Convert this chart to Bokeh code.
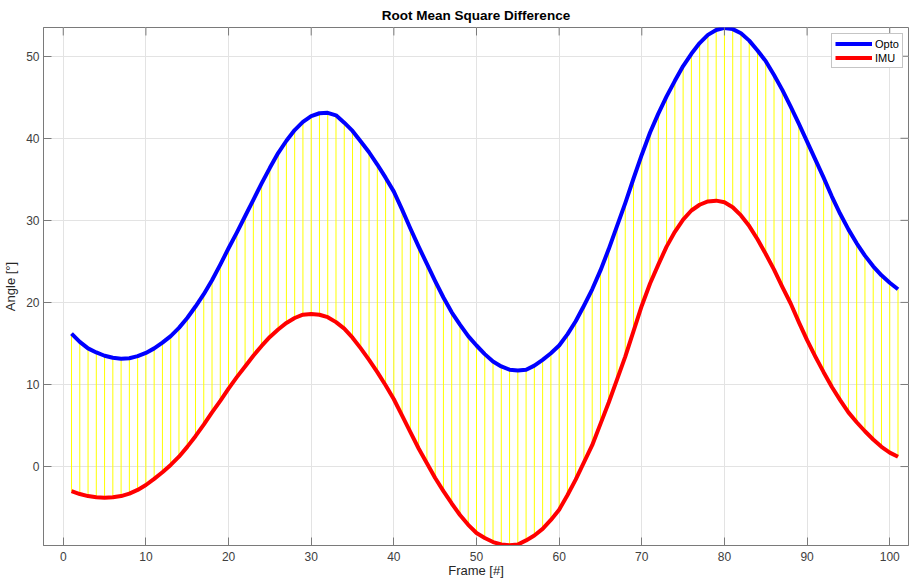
from bokeh.plotting import figure
from bokeh.models import Range1d, FixedTicker, Legend, LegendItem
from bokeh.embed import file_html
from bokeh.resources import INLINE

frames = list(range(1, 102))

opto = [16.2, 15.2, 14.4, 13.9, 13.5, 13.25, 13.15, 13.2, 13.45, 13.85,
        14.4, 15.1, 15.9, 16.9, 18.1, 19.5, 21.0, 22.7, 24.6, 26.6,
        28.5, 30.5, 32.5, 34.5, 36.4, 38.2, 39.7, 41.0, 42.0, 42.7,
        43.05, 43.1, 42.8, 41.9, 40.9, 39.6, 38.3, 36.8, 35.2, 33.5,
        31.3, 29.0, 26.8, 24.7, 22.6, 20.6, 18.8, 17.3, 15.9, 14.75,
        13.7, 12.8, 12.2, 11.8, 11.7, 11.8, 12.3, 13.0, 13.8, 14.75,
        16.1, 17.7, 19.6, 21.6, 23.9, 26.5, 29.3, 32.1, 35.1, 38.0,
        40.7, 43.0, 45.1, 47.0, 48.8, 50.3, 51.6, 52.6, 53.2, 53.45,
        53.3, 52.8, 51.9, 50.7, 49.4, 47.7, 45.9, 43.9, 41.8, 39.6,
        37.4, 35.2, 32.9, 30.8, 28.9, 27.2, 25.7, 24.4, 23.3, 22.4,
        21.6]

imu = [-3.0, -3.35, -3.6, -3.75, -3.8, -3.75, -3.6, -3.3, -2.85, -2.25,
       -1.5, -0.7, 0.2, 1.2, 2.4, 3.7, 5.1, 6.6, 8.0, 9.5,
       10.9, 12.2, 13.5, 14.7, 15.8, 16.7, 17.5, 18.1, 18.5, 18.6,
       18.5, 18.2, 17.6, 16.8, 15.7, 14.4, 13.0, 11.5, 9.9, 8.2,
       6.2, 4.2, 2.2, 0.4, -1.4, -3.0, -4.5, -5.9, -7.1, -8.1,
       -8.7, -9.2, -9.5, -9.6, -9.5, -9.0, -8.4, -7.6, -6.5, -5.25,
       -3.5, -1.6, 0.5, 2.6, 5.2, 7.8, 10.6, 13.4, 16.5, 19.6,
       22.3, 24.6, 26.8, 28.6, 30.1, 31.2, 31.9, 32.3, 32.4, 32.2,
       31.6, 30.6, 29.3, 27.7, 25.9, 24.0, 21.9, 19.9, 17.6, 15.4,
       13.4, 11.5, 9.7, 8.1, 6.6, 5.4, 4.3, 3.3, 2.4, 1.7,
       1.2]

x_ticks = [0, 10, 20, 30, 40, 50, 60, 70, 80, 90, 100]
y_ticks = [0, 10, 20, 30, 40, 50]

X_MIN, X_MAX = -2.39, 102.27
Y_MIN, Y_MAX = -9.62, 53.5

FONT = "Liberation Sans"
AX = "#7a7a7a"
LBL = "#404040"

p = figure(width=909, height=580, output_backend="svg", toolbar_location=None,
           x_range=Range1d(X_MIN, X_MAX), y_range=Range1d(Y_MIN, Y_MAX),
           min_border_left=38, min_border_right=1, min_border_top=18, min_border_bottom=0,
           background_fill_color="white", border_fill_color="white")

p.title.text = "Root Mean Square Difference"
p.title.align = "center"
p.title.text_font = FONT
p.title.text_font_size = "13.5px"
p.title.text_font_style = "bold"
p.title.text_color = "#000000"
p.title.standoff = 10

p.outline_line_color = AX
p.outline_line_width = 1

for ax, lab in ((p.xaxis[0], "Frame [#]"), (p.yaxis[0], "Angle [°]")):
    ax.axis_label = lab
    ax.axis_label_text_font = FONT
    ax.axis_label_text_font_size = "13px"
    ax.axis_label_text_font_style = "normal"
    ax.axis_label_text_color = "#262626"
    ax.major_label_text_font = FONT
    ax.major_label_text_font_size = "12px"
    ax.major_label_text_color = LBL
    ax.major_tick_in = 8
    ax.major_tick_out = 0
    ax.minor_tick_in = 0
    ax.minor_tick_out = 0
    ax.axis_line_color = AX
    ax.major_tick_line_color = AX

p.xaxis[0].ticker = FixedTicker(ticks=x_ticks)
p.yaxis[0].ticker = FixedTicker(ticks=y_ticks)
p.xaxis[0].major_label_standoff = 6
p.xaxis[0].axis_label_standoff = -1
p.yaxis[0].major_label_standoff = 4
p.yaxis[0].axis_label_standoff = 5

p.xgrid.ticker = FixedTicker(ticks=x_ticks)
p.ygrid.ticker = FixedTicker(ticks=y_ticks)
p.xgrid.grid_line_color = "#e3e3e3"
p.ygrid.grid_line_color = "#e3e3e3"

p.segment(x0=frames, y0=imu, x1=frames, y1=opto, line_color="#ffff00", line_width=1)
r_opto = p.line(frames, opto, line_color="#0000ff", line_width=4, line_join="round")
r_imu = p.line(frames, imu, line_color="#ff0000", line_width=4, line_join="round")

# inward box ticks on the top and right edges (8 px long)
tx = 8 / 8.236
ty = 8 / 8.25
p.segment(x0=x_ticks, y0=[Y_MAX] * len(x_ticks), x1=x_ticks, y1=[Y_MAX - ty] * len(x_ticks),
          line_color=AX, line_width=1)
p.segment(x0=[X_MAX] * len(y_ticks), y0=y_ticks, x1=[X_MAX - tx] * len(y_ticks), y1=y_ticks,
          line_color=AX, line_width=1)

legend = Legend(items=[LegendItem(label="Opto", renderers=[r_opto]),
                       LegendItem(label="IMU", renderers=[r_imu])],
                location=(788, 477))
legend.margin = 0
legend.padding = 3
legend.spacing = 1
legend.glyph_width = 37
legend.glyph_height = 13
legend.label_height = 13
legend.label_standoff = 3
legend.label_text_font = FONT
legend.label_text_font_size = "11px"
legend.label_text_color = "#000000"
legend.border_line_color = "#8c8c8c"
legend.border_line_width = 1
legend.background_fill_color = "white"
legend.background_fill_alpha = 1
p.add_layout(legend, "center")

open("out.html", "w").write(file_html(p, INLINE))
